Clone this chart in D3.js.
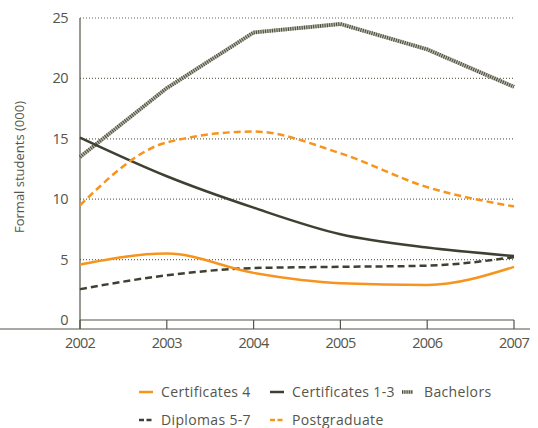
<!DOCTYPE html>
<html><head><meta charset="utf-8">
<script src="https://cdn.jsdelivr.net/npm/d3@7"></script>
<style>body{margin:0;background:#fff}svg{display:block}text{font-family:"Open Sans",Lato,sans-serif;fill:#55554a}</style>
</head><body><svg id="c" width="538" height="428"></svg>
<script>
const years = [2002, 2003, 2004, 2005, 2006, 2007];
const yTicks = [0, 5, 10, 15, 20, 25];
const certificates4 = [4.6, 5.5, 3.9, 3.05, 2.9, 4.4];
const certificates13 = [15.1, 11.9, 9.3, 7.1, 6.0, 5.3];
const bachelors = [13.5, 19.2, 23.8, 24.5, 22.4, 19.3];
const diplomas57 = [2.55, 3.7, 4.3, 4.4, 4.5, 5.2];
const postgraduate = [9.5, 14.7, 15.6, 13.8, 11.0, 9.4];

const orange = "#f7941d", dark = "#3f3f32";
const svg = d3.select("#c");
const x = d3.scaleLinear().domain([2002, 2007]).range([80, 514]);
const y = d3.scaleLinear().domain([0, 25]).range([320, 18]);

// grid
svg.append("g").selectAll("line").data(yTicks.filter(d => d > 0)).join("line")
  .attr("x1", x(2002)).attr("x2", x(2007)).attr("y1", d => y(d)).attr("y2", d => y(d))
  .attr("stroke", "#6b6b5e").attr("stroke-width", 1.2).attr("stroke-dasharray", "1,2");

// y labels
svg.append("g").selectAll("text").data(yTicks).join("text")
  .attr("x", 68).attr("y", d => y(d)).attr("dy", "0.35em").attr("text-anchor", "end")
  .attr("font-size", 14.5).attr("letter-spacing", -0.6).text(d => d);

// axes
svg.append("line").attr("x1", x(2002)).attr("x2", x(2002)).attr("y1", y(25)).attr("y2", 329).attr("stroke", "#55554a").attr("stroke-width", 1.2);
svg.append("line").attr("x1", x(2002)).attr("x2", x(2007)).attr("y1", y(0)).attr("y2", y(0)).attr("stroke", "#55554a").attr("stroke-width", 1.2);
svg.append("line").attr("x1", 0).attr("x2", 530).attr("y1", 329).attr("y2", 329).attr("stroke", "#55554a").attr("stroke-width", 1.2);
svg.append("g").selectAll("line").data(years).join("line")
  .attr("x1", d => x(d)).attr("x2", d => x(d)).attr("y1", y(0)).attr("y2", 329)
  .attr("stroke", "#55554a").attr("stroke-width", 1.2);
svg.append("g").selectAll("text").data(years).join("text")
  .attr("x", d => x(d)).attr("y", 348).attr("text-anchor", "middle").attr("font-size", 14.5)
  .attr("letter-spacing", -0.8).text(d => d);

svg.append("text").attr("transform", "translate(24,167) rotate(-90)").attr("text-anchor", "middle")
  .attr("font-size", 13).text("Formal students (000)");

function mk(vals, curve) {
  return d3.line().x((d, i) => x(years[i])).y(d => y(d)).curve(curve)(vals);
}
const sm = d3.curveMonotoneX;
// bachelors
svg.append("path").attr("d", mk(bachelors, d3.curveLinear)).attr("fill", "none").attr("stroke", "#b8b8aa").attr("stroke-width", 3.8);
svg.append("path").attr("d", mk(bachelors, d3.curveLinear)).attr("fill", "none").attr("stroke", "#4a4a3d").attr("stroke-width", 3.8).attr("stroke-dasharray", "1,1.3");
svg.append("path").attr("d", mk(certificates13, sm)).attr("fill", "none").attr("stroke", dark).attr("stroke-width", 2.5);
svg.append("path").attr("d", mk(postgraduate, sm)).attr("fill", "none").attr("stroke", orange).attr("stroke-width", 2.5).attr("stroke-dasharray", "7,4");
svg.append("path").attr("d", mk(diplomas57, sm)).attr("fill", "none").attr("stroke", dark).attr("stroke-width", 2.5).attr("stroke-dasharray", "7,4");
svg.append("path").attr("d", mk(certificates4, sm)).attr("fill", "none").attr("stroke", orange).attr("stroke-width", 2.5);

// legend
const legend = [
  {name: "Certificates 4", x: 139, y: 392, color: orange, dash: null, w: 2.5},
  {name: "Certificates 1-3", x: 270, y: 392, color: dark, dash: null, w: 2.5},
  {name: "Bachelors", x: 402, y: 392, color: "#4a4a3d", dash: "1,1.3", w: 3.5, base: true},
  {name: "Diplomas 5-7", x: 139, y: 420, color: dark, dash: "5,2.5", w: 2.5},
  {name: "Postgraduate", x: 270, y: 420, color: orange, dash: "5,2.5", w: 2.5}
];
legend.forEach(l => {
  const len = l.base ? 11 : 14;
  if (l.base) svg.append("line").attr("x1", l.x).attr("x2", l.x + len).attr("y1", l.y).attr("y2", l.y).attr("stroke", "#b8b8aa").attr("stroke-width", l.w);
  svg.append("line").attr("x1", l.x).attr("x2", l.x + len).attr("y1", l.y).attr("y2", l.y)
    .attr("stroke", l.color).attr("stroke-width", l.w).attr("stroke-dasharray", l.dash);
  svg.append("text").attr("x", l.x + 22).attr("y", l.y).attr("dy", "0.35em").attr("font-size", 14)
    .attr("letter-spacing", 0.35).text(l.name);
});
</script></body></html>
